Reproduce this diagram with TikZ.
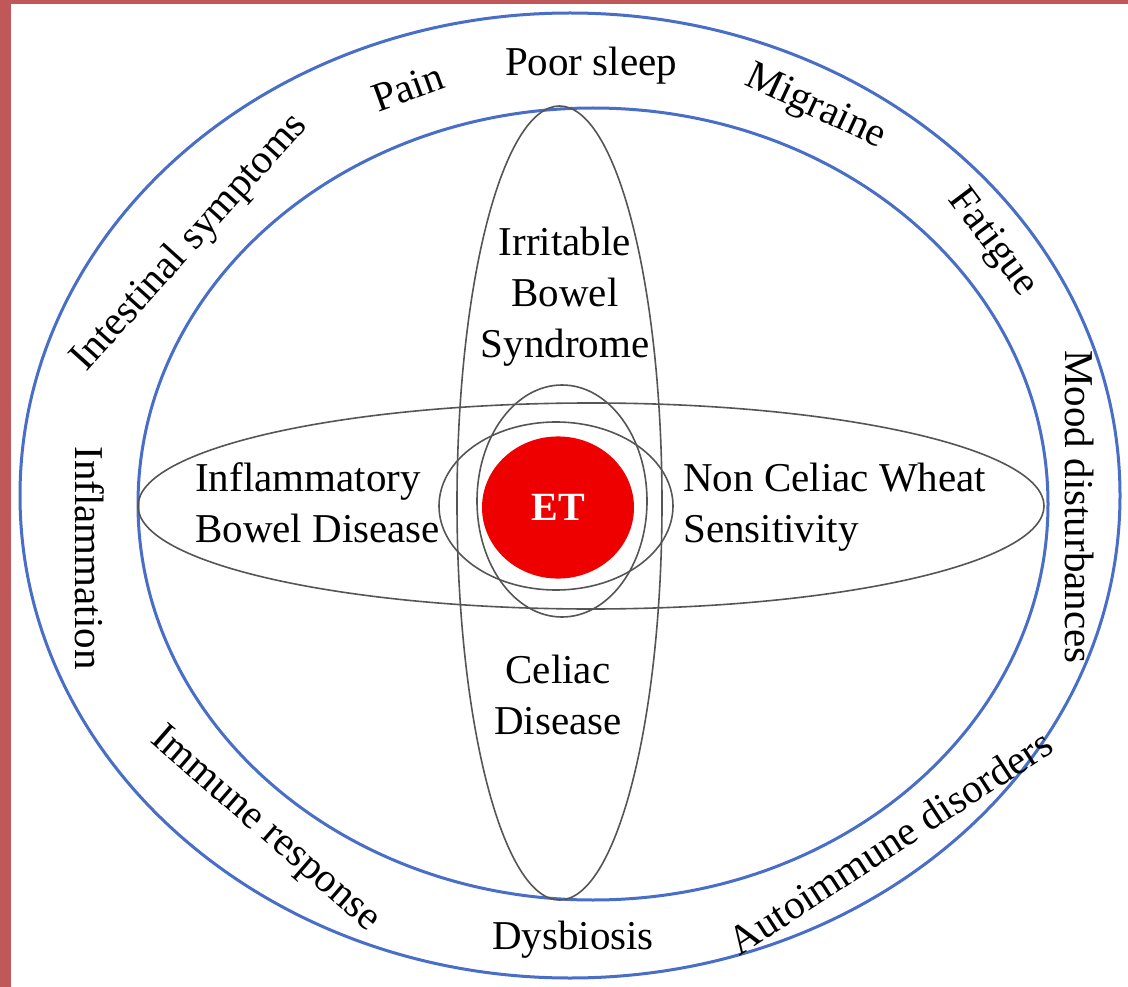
\documentclass[tikz,border=0pt]{standalone}
\usepackage{fontspec}
\setmainfont{Liberation Serif}
\usetikzlibrary{shapes.geometric}
\definecolor{frame}{RGB}{192,88,90}
\definecolor{ringblue}{RGB}{72,110,200}
\definecolor{ellgray}{RGB}{85,85,85}
\definecolor{etred}{RGB}{238,0,0}
\tikzset{
  ring/.style={ellipse, draw=ringblue, line width=3pt, inner sep=0pt},
  oval/.style={ellipse, draw=ellgray, line width=1.6pt, inner sep=0pt},
  lbl/.style={inner sep=0pt, font=\fontsize{41}{51}\selectfont, text=black},
}
\begin{document}
\begin{tikzpicture}[x=1pt, y=-1pt]
\useasboundingbox (0,0) rectangle (1128,987);
\fill[white] (0,0) rectangle (1128,987);
\fill[frame] (0,0) rectangle (11,987);
\fill[frame] (0,0) rectangle (1128,4);

% outer rings
\node[ring, minimum width=1100pt, minimum height=965pt] (outer) at (570,495.5) {};
\node[ring, minimum width=910pt, minimum height=792pt] (inner) at (593,504) {};

% big ellipses
\node[oval, minimum width=205pt, minimum height=794pt] (vbig) at (559.5,503) {};
\node[oval, minimum width=906pt, minimum height=206pt] (hbig) at (591,506) {};
% small ellipses
\node[oval, minimum width=170pt, minimum height=232pt] (vsmall) at (562,501) {};
\node[oval, minimum width=234pt, minimum height=168pt] (hsmall) at (556,506) {};

% ET
\node[circle, fill=etred, minimum width=152pt, inner sep=0pt, xscale=1, yscale=0.935] (et) at (558,507.5) {};
\node[inner sep=0pt, text=white, font=\fontsize{40}{48}\selectfont\bfseries] (ettext) at (et.center) {ET};

% inner labels
\node[lbl, align=center] (ibs) at (565,297) {Irritable\\Bowel\\Syndrome};
\node[lbl, align=left, anchor=west] (ibd) at (195,503) {Inflammatory\\Bowel Disease};
\node[lbl, align=left, anchor=west] (ncws) at (683,507) {Non Celiac Wheat\\Sensitivity};
\node[lbl, align=center] (cd) at (558,695) {Celiac\\Disease};

% ring labels
\node[lbl, rotate=48] (intest) at (190,243) {Intestinal symptoms};
\node[lbl, rotate=20] (pain) at (408,87) {Pain};
\node[lbl] (sleep) at (591,66) {Poor sleep};
\node[lbl, rotate=-25] (migr) at (815,108) {Migraine};
\node[lbl, rotate=-53] (fat) at (992,243) {Fatigue};
\node[lbl, rotate=-90] (mood) at (1080,507) {Mood disturbances};
\node[lbl, rotate=33] (auto) at (890,842) {Autoimmune disorders};
\node[lbl] (dys) at (573,940) {Dysbiosis};
\node[lbl, rotate=-41] (immune) at (265,830) {Immune response};
\node[lbl, rotate=-90] (infl) at (90,558) {Inflammation};
\end{tikzpicture}
\end{document}
